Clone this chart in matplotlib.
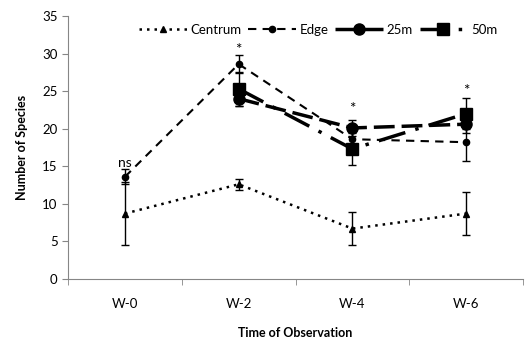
import numpy as np
import matplotlib
matplotlib.use("Agg")
import matplotlib.pyplot as plt
from matplotlib.ticker import FixedLocator
from matplotlib.lines import Line2D

plt.rcParams["font.family"] = ["Lato", "DejaVu Sans"]

# ---------------------------------------------------------------------------
# Data
# ---------------------------------------------------------------------------
weeks = ["W-0", "W-2", "W-4", "W-6"]

centrum = [8.7, 12.6, 6.7, 8.7]
centrum_err = [4.2, 0.7, 2.2, 2.9]

edge = [13.6, 28.6, 18.6, 18.2]
edge_err = [1.0, 1.2, 0.9, 2.5]

m25 = [np.nan, 24.0, 20.1, 20.6]
m25_err = [np.nan, 1.0, 1.1, 1.2]

m50 = [np.nan, 25.3, 17.3, 22.0]
m50_err = [np.nan, 2.3, 2.1, 2.1]

sig_labels = ["ns", "*", "*", "*"]
sig_y = [14.6, 29.6, 21.7, 24.1]

# ---------------------------------------------------------------------------
# Plot
# ---------------------------------------------------------------------------
fig = plt.figure(figsize=(5.32, 3.41), dpi=100)
ax = fig.add_axes([0.128, 0.182, 0.855, 0.771])

x = np.arange(len(weeks))
eb_kw = dict(ecolor="black", elinewidth=1.0, capsize=3, capthick=1.0)

styles = [
    ("Centrum", centrum, centrum_err, dict(linestyle=(0, (1, 2)), linewidth=1.8, marker="^", markersize=5)),
    ("Edge", edge, edge_err, dict(linestyle=(0, (4, 3)), linewidth=1.5, marker="o", markersize=4.5)),
    ("25m", m25, m25_err, dict(linestyle=(0, (6, 2)), linewidth=2.5, marker="o", markersize=8)),
    ("50m", m50, m50_err, dict(linestyle=(0, (8, 3, 1, 3)), linewidth=2.5, marker="s", markersize=8)),
]

handles = []
for name, vals, errs, st in styles:
    ax.errorbar(x, vals, yerr=errs, color="black", **st, **eb_kw)
    handles.append(Line2D([], [], color="black", label=name, **st))

for xi, lab, yy in zip(x, sig_labels, sig_y):
    ax.text(xi, yy, lab, ha="center", va="bottom",
            fontsize=11 if lab == "*" else 10, color="black")

ax.set_xlim(-0.5, 3.5)
ax.set_ylim(0, 35)
ax.set_yticks(np.arange(0, 36, 5))
ax.set_xticks(x)
ax.set_xticklabels(weeks)
ax.xaxis.set_minor_locator(FixedLocator(np.arange(-0.5, 3.6, 1.0)))
ax.tick_params(axis="x", which="major", length=0, pad=14, labelsize=9.5)
ax.tick_params(axis="x", which="minor", length=4, color="#868686")
ax.tick_params(axis="y", length=4, color="#868686", labelsize=9.5)

for side in ["top", "right"]:
    ax.spines[side].set_visible(False)
for side in ["left", "bottom"]:
    ax.spines[side].set_color("#868686")

ax.set_xlabel("Time of Observation", fontsize=9, fontweight="bold", labelpad=12)
ax.set_ylabel("Number of Species", fontsize=9, fontweight="bold", labelpad=10)

ax.legend(handles=handles, loc="upper center", bbox_to_anchor=(0.55, 1.0),
          ncol=4, frameon=False, fontsize=9.5, handlelength=3.6,
          columnspacing=0.5, handletextpad=0.3, borderaxespad=0.2)

fig.savefig("out.png", dpi=100)
